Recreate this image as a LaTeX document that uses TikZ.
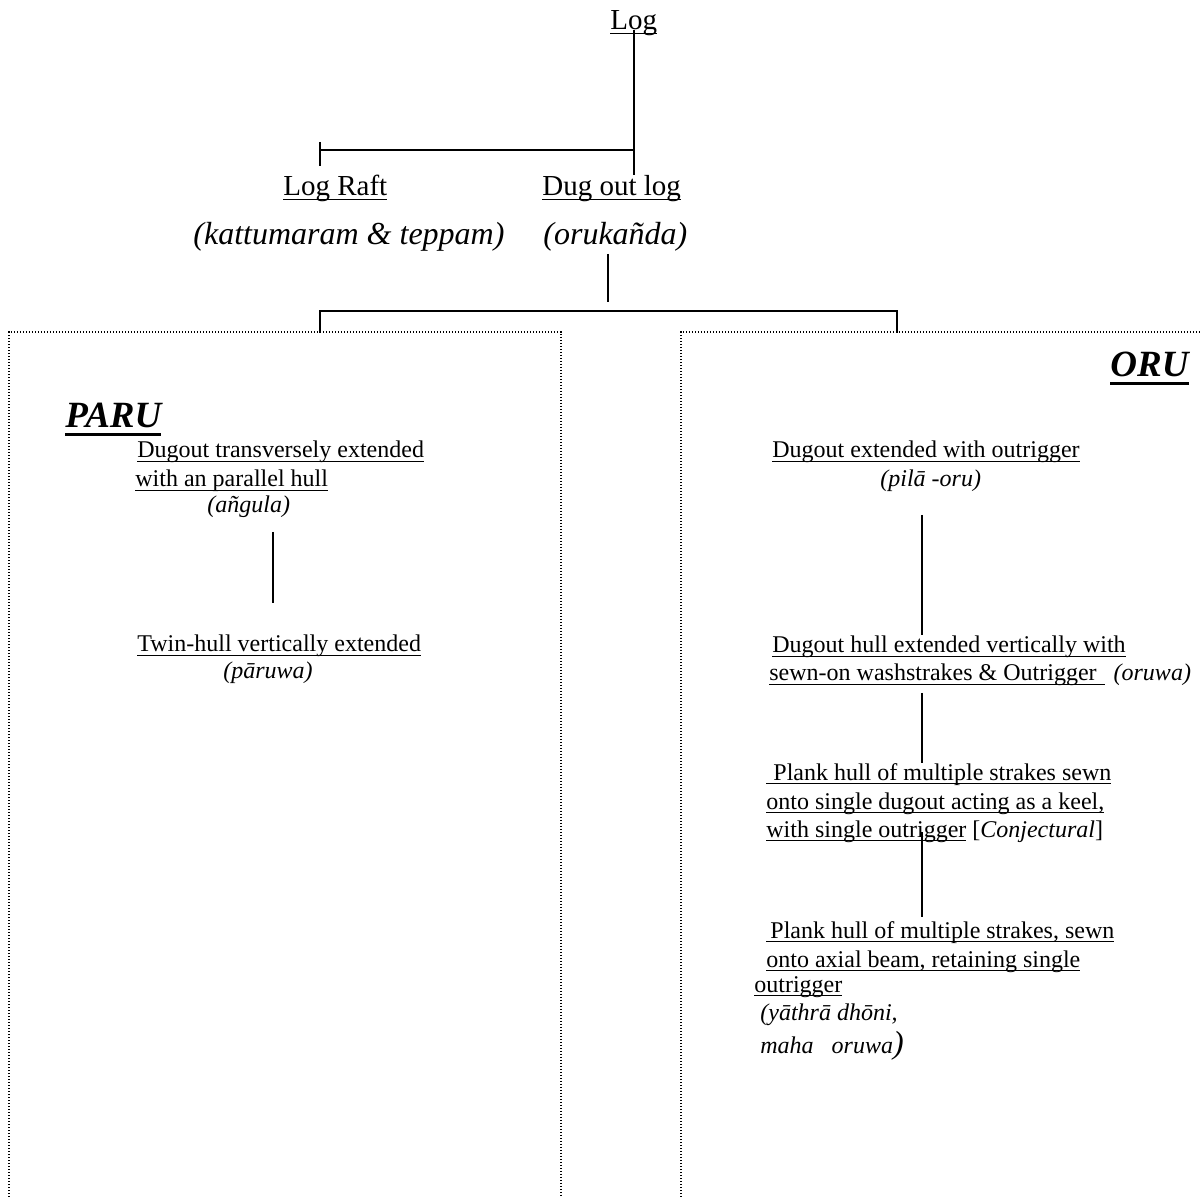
\documentclass[tikz,border=0pt]{standalone}
\usepackage{fontspec}
\setmainfont{Liberation Serif}
\newcommand{\myul}[1]{\leavevmode\setbox0\hbox{#1}\rlap{\vrule width\wd0 height -1.3pt depth 1.95pt}\box0\relax}
\newcommand{\myulthick}[1]{\leavevmode\setbox0\hbox{#1}\rlap{\vrule width\wd0 height -2.5pt depth 4pt}\box0\relax}
\begin{document}
\begin{tikzpicture}[x=0.5pt,y=-0.5pt,
  conn/.style={line width=0.75pt},
  boxline/.style={line width=0.6pt, dash pattern=on 0.6pt off 0.9pt},
  lbl/.style={anchor=base west, inner sep=0pt, font=\fontsize{12}{14}\selectfont},
  toplbl/.style={lbl, font=\fontsize{14.5}{17}\selectfont},
  topit/.style={lbl, font=\fontsize{16}{19}\selectfont\itshape},
  headlbl/.style={lbl, font=\fontsize{18.5}{22}\selectfont\bfseries\itshape}]
\useasboundingbox (0,0) rectangle (1200,1197);

% boxes
\draw[boxline] (9,1197) |- (561,332) -- (561,1197);
\draw[boxline] (681,1197) |- (1200,332);

% top level
\node[toplbl] (log) at (610,30) {\myul{Log}};
\node[toplbl] (raft) at (283,196) {\myul{Log Raft}};
\node[toplbl] (dug) at (542,196) {\myul{Dug out log}};
\node[topit] (kat) at (193,245) {(kattumaram \& teppam)};
\node[topit] (oruk) at (543,245) {(orukañda)};

% headings
\node[headlbl] (paru) at (65,428) {\myulthick{PARU}};
\node[headlbl] (oru) at (1110,377) {\myulthick{ORU}};

% PARU branch
\node[lbl] (p1) at (137,458) {\myul{Dugout transversely extended}};
\node[lbl] (p2) at (135,487) {\myul{with an parallel hull}};
\node[lbl] (p3) at (207,513) {\itshape (añgula)};
\node[lbl] (p4) at (137,652) {\myul{Twin-hull vertically extended}};
\node[lbl] (p5) at (223,679) {\itshape (pāruwa)};

% ORU branch
\node[lbl] (o1) at (772,458) {\myul{Dugout extended with outrigger}};
\node[lbl] (o2) at (880,487) {\itshape (pilā -oru)};
\node[lbl] (o3) at (772,653) {\myul{Dugout hull extended vertically with}};
\node[lbl] (o4) at (769,681) {\myul{sewn-on washstrakes \& Outrigger\hspace{4pt}}\hspace{4.5pt}\textit{(oruwa)}};
\node[lbl] (o5) at (766,780) {\myul{\hspace{3.5pt}Plank hull of multiple strakes sewn}};
\node[lbl] (o6) at (766,809) {\myul{onto single dugout acting as a keel,}};
\node[lbl] (o7) at (766,837) {\myul{with single outrigger}\ [\textit{Conjectural}]};
\node[lbl] (o8) at (766,938) {\myul{\hspace{2pt}Plank hull of multiple strakes, sewn}};
\node[lbl] (o9) at (766,967) {\myul{onto axial beam, retaining single}};
\node[lbl] (o10) at (754,992) {\myul{outrigger}};
\node[lbl] (o11) at (760,1020) {\itshape (yāthrā dhōni,};
\node[lbl] (o12) at (760,1053) {\itshape maha\ \ \ oruwa{\fontsize{16}{16}\selectfont)}};

% connector coordinates
\coordinate (tRaft) at (320,150);
\coordinate (tRaftA) at (320,142);
\coordinate (tRaftB) at (320,166);
\coordinate (dsTop) at (608,254);
\coordinate (dsBot) at (608,302);
\coordinate (bL) at (320,333);
\coordinate (sR) at (897,311);
\coordinate (bR) at (897,333);
\coordinate (pA) at (273,532);
\coordinate (pB) at (273,603);
\coordinate (oA) at (922,515);
\coordinate (oB) at (922,635);
\coordinate (oC) at (922,693);
\coordinate (oD) at (922,763);
\coordinate (oE) at (922,832);
\coordinate (oF) at (922,917);

% connectors
\draw[conn] (log.base) -- (log.base |- dug.north);
\draw[conn] (log.base |- tRaft) -- (tRaft);
\draw[conn] (tRaftA) -- (tRaftB);
\draw[conn] (dsTop) -- (dsBot);
\draw[conn] (bL) |- (sR) -- (bR);
\draw[conn] (pA) -- (pB);
\draw[conn] (oA) -- (oB);
\draw[conn] (oC) -- (oD);
\draw[conn] (oE) -- (oF);
\end{tikzpicture}
\end{document}
